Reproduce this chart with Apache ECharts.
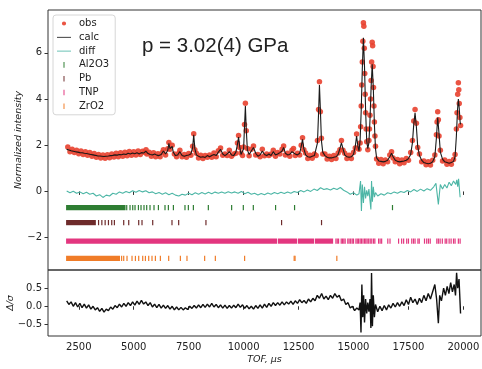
<!DOCTYPE html>
<html>
<head>
<meta charset="utf-8">
<script src="https://cdn.jsdelivr.net/npm/echarts@6/dist/echarts.min.js"></script>
<style>
  html, body { margin: 0; padding: 0; background: #fff; }
  #chart { width: 482px; height: 369px; }
</style>
</head>
<body>
<div id="chart"></div>
<script>
// TOF (µs) / normalized intensity
const calcPts = [
  [1950,1.82],[2050,1.79],[2150,1.76],[2250,1.74],[2350,1.72],[2450,1.70],[2550,1.68],[2650,1.67],[2750,1.65],[2850,1.64],
  [2950,1.62],[3050,1.60],[3150,1.58],[3250,1.56],[3350,1.54],[3450,1.53],[3550,1.52],[3650,1.51],[3750,1.52],[3850,1.53],
  [3950,1.55],[4050,1.56],[4150,1.58],[4250,1.57],[4350,1.60],[4450,1.59],[4550,1.62],[4650,1.60],[4750,1.65],[4850,1.62],
  [4950,1.66],[5050,1.63],[5150,1.67],[5250,1.62],[5350,1.68],[5450,1.66],[5550,1.74],[5650,1.64],[5750,1.60],[5850,1.58],
  [5950,1.62],[6050,1.57],[6150,1.55],[6250,1.60],[6350,1.75],[6450,1.62],[6550,1.78],[6600,2.08],[6650,1.85],[6750,1.95],
  [6800,1.70],[6900,1.55],[7000,1.58],[7100,1.72],[7200,1.55],[7300,1.52],[7400,1.55],[7500,1.58],[7600,1.62],[7680,1.90],
  [7730,2.45],[7780,1.85],[7850,1.58],[7950,1.52],[8050,1.48],[8150,1.50],[8250,1.47],[8350,1.55],[8450,1.50],[8550,1.55],
  [8650,1.60],[8750,1.55],[8850,1.70],[8950,1.82],[9050,1.62],[9150,1.55],[9250,1.62],[9350,1.72],[9450,1.58],[9550,1.55],
  [9650,1.70],[9720,2.05],[9770,2.35],[9820,1.95],[9880,1.60],[9950,1.62],[10000,1.85],[10040,2.80],[10080,3.70],[10120,2.70],
  [10170,1.80],[10250,1.60],[10350,1.75],[10450,1.90],[10550,1.65],[10650,1.52],[10750,1.58],[10850,1.75],[10950,1.60],[11050,1.55],
  [11150,1.62],[11250,1.55],[11350,1.72],[11450,1.58],[11550,1.62],[11650,1.68],[11750,1.75],[11820,1.90],[11900,1.65],[12000,1.58],
  [12100,1.60],[12200,1.72],[12270,1.80],[12350,1.62],[12450,1.58],[12550,1.65],[12620,1.95],[12680,2.25],[12740,1.85],[12820,1.58],
  [12920,1.50],[13020,1.48],[13120,1.52],[13220,1.55],[13300,1.62],[13360,2.10],[13410,3.40],[13450,4.60],[13490,3.60],[13540,2.20],
  [13600,1.70],[13700,1.55],[13800,1.48],[13900,1.45],[14000,1.45],[14100,1.48],[14200,1.50],[14300,1.60],[14380,1.85],[14450,2.10],
  [14520,1.85],[14600,1.58],[14700,1.50],[14800,1.48],[14900,1.50],[15000,1.60],[15080,1.95],[15140,2.40],[15200,1.95],[15250,1.75],
  [15300,2.20],[15350,3.50],[15400,5.30],[15450,6.65],[15500,5.40],[15550,3.50],[15600,2.20],[15650,1.85],[15700,2.10],[15750,3.10],
  [15800,4.50],[15850,5.50],[15900,4.50],[15950,2.90],[16000,1.85],[16050,1.45],[16150,1.32],[16250,1.30],[16350,1.28],[16450,1.30],
  [16550,1.35],[16650,1.50],[16730,1.65],[16800,1.50],[16900,1.35],[17000,1.30],[17100,1.28],[17200,1.30],[17300,1.32],[17400,1.35],
  [17500,1.42],[17600,1.60],[17680,2.10],[17740,2.90],[17800,3.40],[17860,2.80],[17920,1.95],[18000,1.55],[18100,1.35],[18200,1.25],
  [18300,1.22],[18400,1.20],[18500,1.22],[18600,1.28],[18700,1.50],[18770,2.30],[18830,3.20],[18890,2.50],[18950,1.70],[19050,1.40],
  [19150,1.28],[19250,1.25],[19350,1.22],[19450,1.25],[19550,1.30],[19620,1.50],[19680,2.40],[19730,3.50],[19770,4.00],[19810,3.60],
  [19850,3.00],[19870,2.90]
];

const obsPts = [
  [2000,1.92],[2100,1.72],[2200,1.83],[2300,1.68],[2400,1.78],[2500,1.63],[2600,1.75],[2700,1.60],[2800,1.72],[2900,1.56],
  [3000,1.68],[3100,1.52],[3200,1.64],[3300,1.48],[3400,1.60],[3500,1.45],[3600,1.58],[3700,1.44],[3800,1.59],[3900,1.46],
  [4000,1.62],[4100,1.49],[4200,1.65],[4300,1.50],[4400,1.67],[4500,1.52],[4600,1.70],[4700,1.54],[4800,1.73],[4900,1.56],
  [5000,1.72],[5100,1.58],[5200,1.75],[5300,1.60],[5400,1.74],[5500,1.68],[5560,1.80],[5600,1.62],[5700,1.70],[5800,1.52],
  [5900,1.67],[6000,1.50],[6100,1.63],[6200,1.50],[6300,1.68],[6350,1.80],[6450,1.58],[6550,1.85],[6600,2.12],[6650,1.82],
  [6750,2.00],[6850,1.62],[6950,1.50],[7050,1.65],[7100,1.78],[7200,1.50],[7300,1.60],[7400,1.48],[7500,1.64],[7600,1.56],
  [7680,1.95],[7730,2.50],[7780,1.80],[7850,1.65],[7950,1.45],[8050,1.56],[8150,1.42],[8250,1.55],[8350,1.48],[8450,1.58],
  [8550,1.48],[8650,1.66],[8750,1.50],[8850,1.76],[8950,1.88],[9050,1.56],[9150,1.62],[9250,1.55],[9350,1.78],[9450,1.52],
  [9550,1.62],[9650,1.65],[9720,2.10],[9770,2.42],[9820,1.90],[9880,1.66],[9950,1.55],[10000,1.92],[10040,2.90],[10080,3.82],
  [10120,2.62],[10170,1.86],[10250,1.54],[10350,1.82],[10450,1.96],[10550,1.58],[10650,1.60],[10750,1.50],[10850,1.82],[10950,1.54],
  [11050,1.62],[11150,1.55],[11250,1.62],[11350,1.78],[11450,1.52],[11550,1.68],[11650,1.62],[11750,1.82],[11820,1.96],[11900,1.58],
  [12000,1.65],[12100,1.52],[12200,1.78],[12270,1.86],[12350,1.55],[12450,1.65],[12550,1.58],[12620,2.00],[12680,2.32],[12740,1.80],
  [12820,1.66],[12920,1.42],[13020,1.56],[13120,1.44],[13220,1.62],[13300,1.55],[13360,2.20],[13410,3.55],[13450,4.75],[13490,3.45],
  [13540,2.30],[13600,1.62],[13700,1.62],[13800,1.40],[13900,1.52],[14000,1.38],[14100,1.55],[14200,1.42],[14300,1.66],[14380,1.80],
  [14450,2.20],[14520,1.78],[14600,1.65],[14700,1.42],[14800,1.56],[14900,1.42],[15000,1.68],[15080,1.88],[15140,2.48],[15200,1.88],
  [15250,1.82],[15300,2.10],[15325,2.80],[15350,3.70],[15375,4.60],[15400,5.60],[15425,6.50],[15450,7.30],[15470,7.15],[15490,6.20],
  [15510,5.10],[15530,4.20],[15550,3.40],[15575,2.70],[15600,2.15],[15650,1.80],[15700,2.20],[15725,2.70],[15750,3.30],[15775,4.00],
  [15800,4.80],[15825,5.60],[15850,6.45],[15870,6.30],[15890,5.40],[15910,4.50],[15930,3.70],[15950,3.00],[15975,2.40],[16000,1.95],
  [16050,1.40],[16150,1.22],[16250,1.38],[16350,1.20],[16450,1.36],[16550,1.28],[16650,1.58],[16730,1.72],[16800,1.45],[16900,1.28],
  [17000,1.38],[17100,1.20],[17200,1.36],[17300,1.24],[17400,1.42],[17500,1.35],[17600,1.68],[17680,2.20],[17740,3.05],[17800,3.55],
  [17860,2.95],[17920,1.90],[18000,1.62],[18100,1.28],[18200,1.32],[18300,1.15],[18400,1.28],[18500,1.14],[18600,1.35],[18700,1.58],
  [18770,2.45],[18800,3.00],[18830,3.45],[18860,3.10],[18890,2.40],[18950,1.78],[19050,1.32],[19150,1.36],[19250,1.18],[19350,1.30],
  [19450,1.18],[19550,1.38],[19620,1.60],[19680,2.70],[19710,3.40],[19740,4.20],[19770,4.70],[19790,4.40],[19810,3.80],[19840,3.20],
  [19870,2.85]
];

const diffPts = [
  [1950,0.02],[2100,-0.06],[2250,0.01],[2400,-0.08],[2550,-0.02],[2700,-0.10],[2850,-0.04],[3000,-0.12],[3150,-0.08],[3300,-0.20],
  [3450,-0.14],[3600,-0.26],[3750,-0.16],[3900,-0.20],[4050,-0.08],[4200,-0.12],[4350,-0.02],[4500,-0.08],[4650,0.00],[4800,-0.06],
  [4950,0.03],[5100,-0.04],[5250,0.04],[5400,-0.02],[5550,0.03],[5700,-0.06],[5850,-0.02],[6000,-0.10],[6150,-0.05],[6300,-0.12],
  [6450,-0.06],[6600,-0.14],[6750,-0.08],[6900,-0.16],[7050,-0.20],[7200,-0.12],[7350,-0.16],[7500,-0.08],[7650,-0.14],[7800,-0.06],
  [7950,-0.12],[8100,-0.05],[8250,-0.11],[8400,-0.04],[8550,-0.10],[8700,-0.03],[8850,-0.08],[9000,-0.02],[9150,-0.08],[9300,-0.01],
  [9450,-0.07],[9600,-0.02],[9750,-0.08],[9900,0.00],[10050,-0.10],[10200,-0.04],[10350,-0.12],[10500,-0.08],[10650,-0.15],[10800,-0.09],
  [10950,-0.14],[11100,-0.07],[11250,-0.12],[11400,-0.05],[11550,-0.10],[11700,-0.04],[11850,-0.09],[12000,-0.02],[12150,-0.08],[12300,0.00],
  [12450,-0.05],[12600,0.04],[12750,-0.02],[12900,0.06],[13050,0.00],[13200,0.10],[13350,0.04],[13500,0.16],[13650,0.08],[13800,0.12],
  [13950,0.06],[14100,0.14],[14250,0.08],[14400,0.17],[14550,0.05],[14700,-0.02],[14850,-0.12],[15000,-0.06],[15150,-0.16],[15250,-0.10],
  [15320,0.45],[15360,-0.85],[15400,0.30],[15450,-0.50],[15500,0.20],[15550,-0.30],[15600,0.05],[15650,-0.20],[15700,0.10],[15750,-0.40],
  [15790,-0.78],[15820,0.45],[15860,-0.45],[15900,0.20],[15950,-0.25],[16000,-0.05],[16100,-0.20],[16250,-0.10],[16400,-0.16],[16550,-0.06],
  [16700,-0.10],[16850,-0.02],[17000,-0.08],[17150,0.00],[17300,-0.05],[17450,0.04],[17600,-0.02],[17750,0.08],[17900,0.00],[18050,0.10],
  [18200,0.02],[18350,0.12],[18500,0.05],[18650,0.20],[18750,0.35],[18860,-0.56],[18950,0.30],[19050,0.10],[19150,0.30],[19250,0.15],
  [19350,0.40],[19450,0.25],[19550,0.45],[19650,0.30],[19700,0.50],[19740,0.20],[19780,0.55],[19850,-0.25]
];

const dsigPts = [
  [1950,0.15],[2050,0.05],[2150,0.12],[2250,0.00],[2350,0.10],[2450,-0.02],[2550,0.08],[2650,-0.04],[2750,0.06],[2850,-0.05],
  [2950,0.04],[3050,-0.08],[3150,0.00],[3250,-0.10],[3350,-0.04],[3450,-0.14],[3550,-0.06],[3650,-0.16],[3750,-0.08],[3850,-0.12],
  [3950,-0.02],[4050,-0.08],[4150,0.02],[4250,-0.04],[4350,0.06],[4450,-0.02],[4550,0.08],[4650,0.00],[4750,0.10],[4850,0.02],
  [4950,0.12],[5050,0.03],[5150,0.14],[5250,0.05],[5350,0.16],[5450,0.06],[5550,0.12],[5650,0.02],[5750,0.10],[5850,-0.02],
  [5950,0.06],[6050,-0.04],[6150,0.05],[6250,-0.05],[6350,0.03],[6450,-0.06],[6550,0.02],[6650,-0.08],[6750,0.00],[6850,-0.10],
  [6950,-0.02],[7050,-0.10],[7150,-0.03],[7250,-0.10],[7350,-0.04],[7450,-0.09],[7550,0.00],[7650,-0.06],[7750,0.02],[7850,-0.05],
  [7950,0.04],[8050,-0.04],[8150,0.05],[8250,-0.03],[8350,0.06],[8450,-0.02],[8550,0.08],[8650,-0.02],[8750,0.05],[8850,-0.04],
  [8950,0.04],[9050,-0.05],[9150,0.03],[9250,-0.06],[9350,0.02],[9450,-0.05],[9550,0.03],[9650,-0.04],[9750,0.06],[9850,-0.03],
  [9950,0.04],[10050,-0.06],[10150,0.02],[10250,-0.07],[10350,0.00],[10450,-0.08],[10550,0.02],[10650,-0.06],[10750,0.04],[10850,-0.05],
  [10950,0.06],[11050,-0.03],[11150,0.08],[11250,0.00],[11350,0.10],[11450,0.02],[11550,0.10],[11650,0.03],[11750,0.12],[11850,0.04],
  [11950,0.12],[12050,0.06],[12150,0.14],[12250,0.05],[12350,0.15],[12450,0.08],[12550,0.18],[12650,0.10],[12750,0.16],[12850,0.08],
  [12950,0.20],[13050,0.12],[13150,0.22],[13250,0.15],[13350,0.30],[13450,0.22],[13550,0.35],[13650,0.20],[13750,0.28],[13850,0.18],
  [13950,0.30],[14050,0.22],[14150,0.35],[14250,0.25],[14350,0.30],[14450,0.15],[14550,0.20],[14650,0.05],[14750,0.10],[14850,-0.05],
  [14950,0.00],[15050,-0.12],[15150,-0.05],[15250,-0.10],[15300,0.10],[15340,-0.72],[15380,0.60],[15420,-0.30],[15460,0.30],[15500,-0.45],
  [15550,0.20],[15600,-0.20],[15650,0.10],[15700,-0.15],[15750,0.20],[15790,-0.60],[15820,0.92],[15860,-0.55],[15900,0.30],[15950,-0.30],
  [16000,0.05],[16100,-0.15],[16200,0.00],[16300,-0.12],[16400,0.02],[16500,-0.10],[16600,0.04],[16700,-0.05],[16800,0.08],[16900,-0.02],
  [17000,0.10],[17100,0.00],[17200,0.12],[17300,0.02],[17400,0.18],[17500,0.05],[17600,0.25],[17700,0.10],[17800,0.20],[17900,0.05],
  [18000,0.22],[18100,0.10],[18200,0.30],[18300,0.15],[18400,0.35],[18500,0.20],[18600,0.40],[18700,0.60],[18780,0.20],[18860,-0.47],
  [18920,0.30],[19000,0.15],[19100,0.50],[19180,0.30],[19260,0.55],[19340,0.35],[19420,0.65],[19500,0.40],[19580,0.60],[19640,0.30],
  [19690,0.92],[19740,0.50],[19800,0.75],[19870,-0.20]
];

// reflection markers: dense runs (start, end) and single ticks, TOF µs
const al2o3Bands = [[1950, 4600]];
const al2o3Ticks = [4682, 4832, 4955, 5059, 5214, 5332, 5468, 5591, 5741, 5923, 6123, 6423, 6577, 6805,
  7332, 7486, 7714, 8395, 9455, 9986, 10441, 11454, 12318, 16773];
const pbBands = [[1950, 3250]];
const pbTicks = [3400, 3550, 3700, 3850, 4000, 4120, 4545, 4773, 5227, 5377, 5864, 6741, 7045, 8286, 11727, 13545];
const tnpBands = [[1950, 11500], [11590, 12410], [12500, 13180], [13270, 14045]];
const tnpTicks = [14200, 14260, 14320, 14440, 14500, 14560, 14620, 14740, 14800, 14870, 14940, 15000, 15110, 15170,
  15230, 15300, 15360, 15430, 15500, 15560, 15620, 15690, 15760, 15830, 15910, 15970, 16140, 16210, 16280, 16560,
  16660, 17050, 17190, 17280, 17420, 17500, 17650, 17730, 17800, 17930, 17990, 18230, 18330, 18410, 18490, 18790,
  18860, 18940, 19040, 19170, 19240, 19350, 19440, 19550, 19620, 19770, 19850];
const zro2Bands = [[1950, 4350]];
const zro2Ticks = [4450, 4545, 4695, 4923, 5077, 5227, 5409, 5532, 5682, 5832, 5986, 6213, 6591, 7123, 7423,
  8227, 8714, 10045, 12300, 12340, 14241];

// marker row offsets on the intensity axis
const phaseNames = ["Al2O3", "Pb", "TNP", "ZrO2"];
const phaseRowY = [-0.70, -1.35, -2.15, -2.90];

const xTicks = [2500, 5000, 7500, 10000, 12500, 15000, 17500, 20000];
const yTicksTop = [-2, 0, 2, 4, 6];
const yTicksBottom = [-0.5, 0, 0.5];

const phaseColors = ["#2e7d32", "#6e2b2b", "#e3367f", "#f07c28"];
const tickPath = "path://M0,0M10,10M4.3,1H5.7V9H4.3Z";
const dotPath = "path://M0,0M10,10M2,5a3,3 0 1,0 6,0a3,3 0 1,0 -6,0";
const linePath = "path://M0,0M20,10M0,4.4H20V5.6H0Z";

const minus = (s) => String(s).replace("-", "\u2212");

function markerItems(bands, ticks, rowY) {
  return bands.map((b) => [b[0], b[1], rowY]).concat(ticks.map((t) => [t, t, rowY]));
}

function renderMarker(params, api) {
  const a = api.coord([api.value(0), api.value(2)]);
  const b = api.coord([api.value(1), api.value(2)]);
  return {
    type: "rect",
    shape: { x: a[0] - 0.6, y: a[1] - 2.6, width: Math.max(b[0] - a[0], 0) + 1.2, height: 5.2 },
    style: { fill: api.visual("color") }
  };
}

const chart = echarts.init(document.getElementById("chart"), null, { renderer: "canvas" });

const font = "DejaVu Sans";
const labelStyle = { fontFamily: font, fontSize: 10, color: "#222" };
const nameStyle = { fontFamily: font, fontSize: 9.5, fontStyle: "italic", color: "#222" };

const phaseSeries = [
  markerItems(al2o3Bands, al2o3Ticks, phaseRowY[0]),
  markerItems(pbBands, pbTicks, phaseRowY[1]),
  markerItems(tnpBands, tnpTicks, phaseRowY[2]),
  markerItems(zro2Bands, zro2Ticks, phaseRowY[3])
].map((items, i) => ({
  name: phaseNames[i],
  type: "custom",
  xAxisIndex: 0,
  yAxisIndex: 0,
  itemStyle: { color: phaseColors[i] },
  encode: { x: [0, 1], y: 2 },
  renderItem: renderMarker,
  data: items,
  z: 2
}));

chart.setOption({
  animation: false,
  backgroundColor: "#fff",
  title: {
    text: "p = 3.02(4) GPa",
    left: 142,
    top: 36,
    padding: 0,
    textStyle: { fontFamily: "Liberation Sans", fontSize: 20.5, fontWeight: "normal", color: "#222" }
  },
  legend: {
    orient: "vertical",
    left: 53,
    top: 15,
    padding: [3, 6, 3, 4],
    itemWidth: 20,
    itemHeight: 7,
    itemGap: 2.8,
    backgroundColor: "rgba(255,255,255,0.85)",
    borderColor: "#d6d6d6",
    borderWidth: 1,
    borderRadius: 3,
    textStyle: { fontFamily: font, fontSize: 10, color: "#222", lineHeight: 11 },
    data: [
      { name: "obs", icon: dotPath },
      { name: "calc", icon: linePath },
      { name: "diff", icon: linePath },
      { name: "Al2O3", icon: tickPath },
      { name: "Pb", icon: tickPath },
      { name: "TNP", icon: tickPath },
      { name: "ZrO2", icon: tickPath }
    ]
  },
  grid: [
    { left: 48, right: 1, top: 10, height: 260, outerBoundsMode: "none", containLabel: false,
      show: true, borderColor: "#333", borderWidth: 1, backgroundColor: "transparent" },
    { left: 48, right: 1, top: 270, height: 66, outerBoundsMode: "none", containLabel: false,
      show: true, borderColor: "#333", borderWidth: 1, backgroundColor: "transparent" }
  ],
  xAxis: [
    {
      type: "value", gridIndex: 0, min: 1100, max: 20800,
      axisLine: { show: false },
      axisTick: { show: true, length: 3.5, customValues: xTicks, lineStyle: { color: "#333" } },
      axisLabel: { show: false },
      splitLine: { show: false }
    },
    {
      type: "value", gridIndex: 1, min: 1100, max: 20800,
      name: "TOF, \u00b5s", nameLocation: "middle", nameGap: 19, nameMoveOverlap: false, nameTextStyle: nameStyle,
      axisLine: { show: false },
      axisTick: { show: true, length: 3.5, customValues: xTicks, lineStyle: { color: "#333" } },
      axisLabel: Object.assign({ customValues: xTicks, margin: 6, formatter: (v) => String(v) }, labelStyle),
      splitLine: { show: false }
    }
  ],
  yAxis: [
    {
      type: "value", gridIndex: 0, min: -3.4, max: 7.85,
      name: "Normalized intensity", nameLocation: "middle", nameGap: 24, nameMoveOverlap: false, nameTextStyle: nameStyle,
      axisLine: { show: false },
      axisTick: { show: true, length: 3.5, customValues: yTicksTop, lineStyle: { color: "#333" } },
      axisLabel: Object.assign({ customValues: yTicksTop, margin: 6, formatter: (v) => minus(v) }, labelStyle),
      splitLine: { show: false }
    },
    {
      type: "value", gridIndex: 1, min: -0.82, max: 1.0,
      name: "\u0394/\u03c3", nameLocation: "middle", nameGap: 32, nameMoveOverlap: false, nameTextStyle: nameStyle,
      axisLine: { show: false },
      axisTick: { show: true, length: 3.5, customValues: yTicksBottom, lineStyle: { color: "#333" } },
      axisLabel: Object.assign({ customValues: yTicksBottom, margin: 6, formatter: (v) => minus(v.toFixed(1)) }, labelStyle),
      splitLine: { show: false }
    }
  ],
  series: [
    {
      name: "obs", type: "scatter", xAxisIndex: 0, yAxisIndex: 0,
      symbol: "circle", symbolSize: 5.5,
      itemStyle: { color: "#e8412f", opacity: 0.9 },
      data: obsPts, z: 1
    },
    {
      name: "calc", type: "line", xAxisIndex: 0, yAxisIndex: 0,
      symbol: "none", lineStyle: { color: "#1a1a1a", width: 1.1 }, itemStyle: { color: "#1a1a1a" },
      data: calcPts, z: 4
    },
    {
      name: "diff", type: "line", xAxisIndex: 0, yAxisIndex: 0,
      symbol: "none", lineStyle: { color: "#4db6a6", width: 1.1 }, itemStyle: { color: "#4db6a6" },
      data: diffPts, z: 3
    },
    ...phaseSeries,
    {
      name: "dsig", type: "line", xAxisIndex: 1, yAxisIndex: 1,
      symbol: "none", lineStyle: { color: "#111", width: 1.4 },
      data: dsigPts, z: 3
    }
  ]
});
</script>
</body>
</html>
